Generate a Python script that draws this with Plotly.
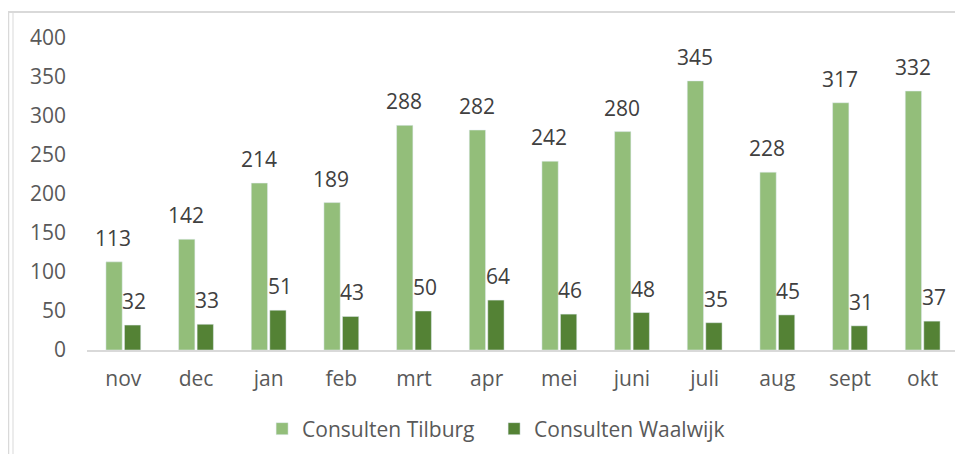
import plotly.graph_objects as go

months = ["nov", "dec", "jan", "feb", "mrt", "apr", "mei", "juni", "juli", "aug", "sept", "okt"]
tilburg = [113, 142, 214, 189, 288, 282, 242, 280, 345, 228, 317, 332]
waalwijk = [32, 33, 51, 43, 50, 64, 46, 48, 35, 45, 31, 37]
y_ticks = [0, 50, 100, 150, 200, 250, 300, 350, 400]

LIGHT = "#93BE7A"
DARK = "#548235"
TXT = "#595959"
LBL = "#404040"
FONT = "Open Sans"

# page body has an 8px margin, so the figure is drawn 8px smaller and offset
OFF = 8
W, H = 963 - OFF, 454 - OFF
L, T = 87 - OFF, 38 - OFF
PR, PB = 959 - OFF, 350 - OFF
R, B = W - PR, H - PB
pw, ph = PR - L, PB - T

def px(x):
    return (x - OFF - L) / pw

def py(y):
    return (PB - (y - OFF)) / ph

fig = go.Figure()
fig.add_trace(go.Bar(x=months, y=tilburg, name="Consulten Tilburg", marker_color=LIGHT))
fig.add_trace(go.Bar(x=months, y=waalwijk, name="Consulten Waalwijk", marker_color=DARK))

annotations = []
for m, v in zip(months, tilburg):
    annotations.append(dict(x=m, y=v, text=str(v), showarrow=False, xshift=-10, yshift=8,
                            yanchor="bottom", font=dict(family=FONT, size=21, color=LBL)))
for m, v in zip(months, waalwijk):
    annotations.append(dict(x=m, y=v, text=str(v), showarrow=False, xshift=11, yshift=8,
                            yanchor="bottom", font=dict(family=FONT, size=21, color=LBL)))

frame = "#D9D9D9"
shapes = [
    dict(type="line", xref="paper", yref="paper", x0=px(8), x1=px(963), y0=py(12), y1=py(12),
         line=dict(color=frame, width=2)),
    dict(type="line", xref="paper", yref="paper", x0=px(8.5), x1=px(8.5), y0=py(12), y1=py(454),
         line=dict(color=frame, width=1.5)),
    dict(type="line", xref="paper", yref="paper", x0=px(13), x1=px(13), y0=py(12), y1=py(454),
         line=dict(color=frame, width=1)),
]

fig.update_layout(
    width=W, height=H,
    margin=dict(l=L, r=R, t=T, b=B, autoexpand=False),
    paper_bgcolor="white", plot_bgcolor="white",
    barmode="group", bargap=0.49, bargroupgap=0.12,
    font=dict(family=FONT, size=21, color=TXT),
    xaxis=dict(showline=True, linecolor=frame, linewidth=2, showgrid=False, ticks="",
               ticklabelstandoff=9, tickfont=dict(size=21, color=TXT)),
    yaxis=dict(range=[0, 400], tickvals=y_ticks, showgrid=False, zeroline=False, showline=False,
               ticks="", ticklabelstandoff=20, tickfont=dict(size=21, color=TXT)),
    legend=dict(orientation="h", xref="container", yref="container", x=0.509, xanchor="center",
                y=(H - (429 - OFF)) / H, yanchor="middle", font=dict(size=21, color=TXT),
                itemwidth=30, tracegroupgap=0, entrywidth=187, entrywidthmode="pixels"),
    annotations=annotations,
    shapes=shapes,
    showlegend=True,
)

fig.write_html("out.html")
